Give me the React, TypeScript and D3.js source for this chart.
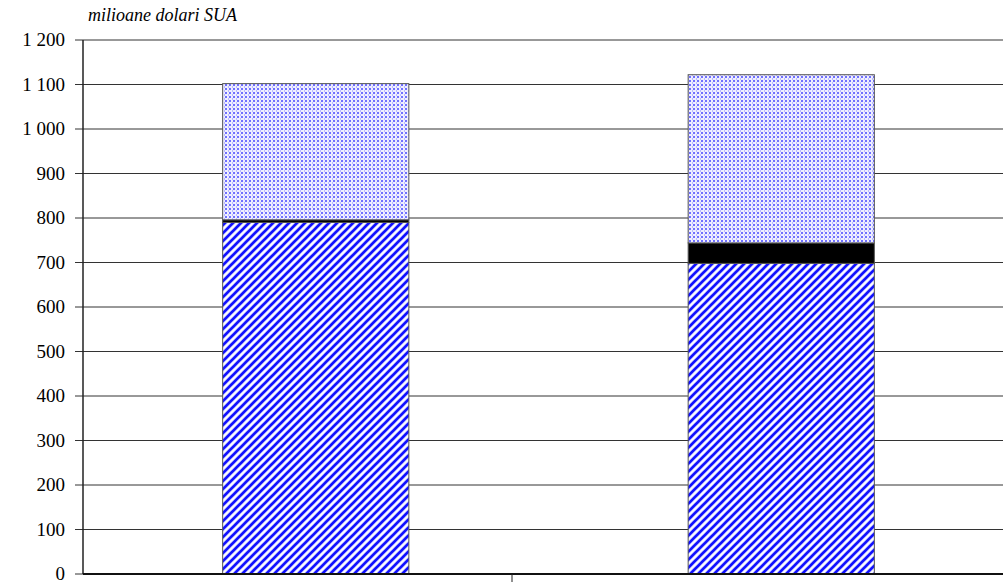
import * as d3 from 'd3';
import * as React from 'react';

// values (milioane dolari SUA)
const categories = ['A', 'B'];
const lowerValues = [790, 698];
const middleValues = [6, 46];
const upperValues = [306, 378];
const yTicks = [0, 100, 200, 300, 400, 500, 600, 700, 800, 900, 1000, 1100, 1200];

const W = 1003;
const H = 582;
const margin = { left: 83, top: 40, bottom: 8 };

const fmt = (v: number) => d3.format(',')(v).replace(/,/g, ' ');

export default function App() {
  const y = d3.scaleLinear().domain([0, 1200]).range([H - margin.bottom, margin.top]);
  const x = d3.scaleBand<string>().domain(categories).range([margin.left, 1014]).paddingInner(0.6).paddingOuter(0.3);

  const rows = categories.map((c, i) => ({ c, lower: lowerValues[i], middle: middleValues[i], upper: upperValues[i] }));
  const stack = d3.stack<any>().keys(['lower', 'middle', 'upper'])(rows);
  const fills = ['url(#stripes)', '#000', 'url(#dots)'];
  const dividerX = (margin.left + 941) / 2;

  return (
    <svg width={W} height={H} fontFamily="Times New Roman" style={{ display: 'block', position: 'absolute', left: 0, top: 0 }}>
      <defs>
        <pattern id="stripes" width="8" height="8" patternUnits="userSpaceOnUse">
          <rect width="8" height="8" fill="#c8c8ff" />
          <path d="M-2,2 L2,-2 M0,8 L8,0 M6,10 L10,6" stroke="#1010ff" strokeWidth="2.6" />
          <path d="M-2,6 L6,-2 M2,10 L10,2" stroke="#ffffff" strokeWidth="1.6" />
        </pattern>
        <pattern id="dots" width="4" height="4" patternUnits="userSpaceOnUse">
          <rect width="4" height="4" fill="#eeeeff" />
          <rect x="1" y="0" width="2" height="2" fill="#7070ff" />
          <rect x="0" y="2" width="1" height="2" fill="#b8b8ff" />
        </pattern>
      </defs>
      <rect width={W} height={H} fill="#fff" />
      {yTicks.map(t => (
        <g key={t}>
          <line x1={margin.left - 8} x2={W} y1={y(t)} y2={y(t)} stroke="#333" strokeWidth={1} />
          <text x={65} y={y(t)} dy="0.33em" textAnchor="end" fontFamily="Times New Roman" fontSize={19} fill="#000">
            {fmt(t)}
          </text>
        </g>
      ))}
      {stack.map((s, k) => (
        <g key={k}>
          {s.map((d: any, i: number) => (
            <rect key={i} x={x(categories[i])} width={x.bandwidth()} y={y(d[1])} height={y(d[0]) - y(d[1])}
              fill={fills[k]} stroke="#555" strokeWidth={1} />
          ))}
        </g>
      ))}
      <line x1={margin.left} x2={margin.left} y1={margin.top} y2={y(0)} stroke="#222" strokeWidth={1.5} />
      <line x1={margin.left} x2={W} y1={y(0)} y2={y(0)} stroke="#111" strokeWidth={2} />
      <line x1={dividerX} x2={dividerX} y1={y(0)} y2={H} stroke="#222" strokeWidth={1} />
      <text x={88} y={21} fontFamily="Times New Roman" fontStyle="italic" fontSize={18} fill="#000">
        milioane dolari SUA
      </text>
    </svg>
  );
}
